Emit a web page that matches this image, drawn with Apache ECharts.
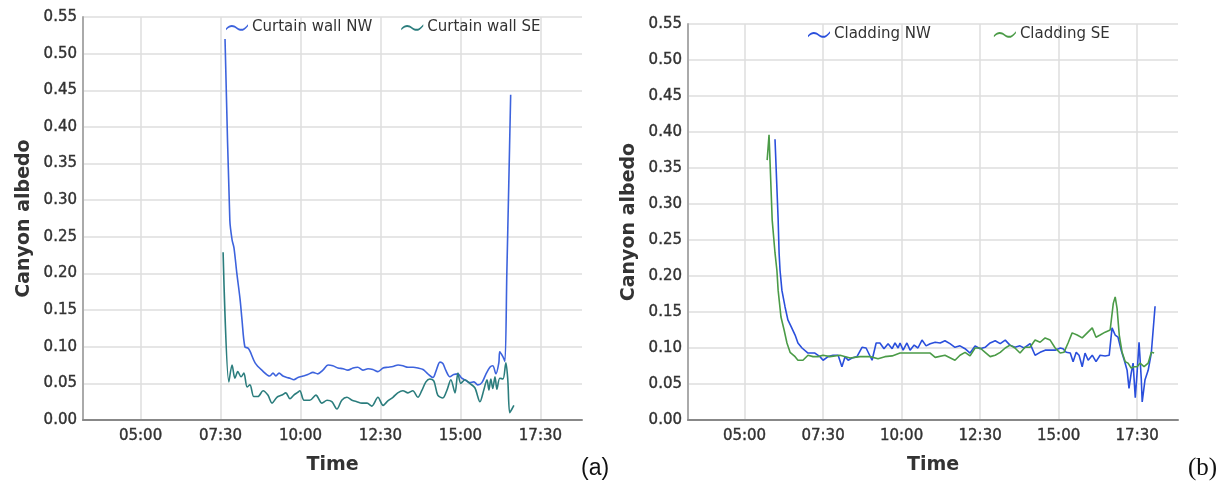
<!DOCTYPE html>
<html>
<head>
<meta charset="utf-8">
<title>Canyon albedo</title>
<script src="https://cdn.jsdelivr.net/npm/echarts@6/dist/echarts.min.js"></script>
<style>
  html, body { margin: 0; padding: 0; background: #fff; }
  #chart { width: 1227px; height: 487px; }
</style>
</head>
<body>
<div id="chart"></div>
<script>
// time in decimal hours, albedo values
const timeTicks = [5, 7.5, 10, 12.5, 15, 17.5]
const albedoTicks = [0, 0.55, 0.05]   // min, max, step

// (a) curtain wall
const cwNwTime = [7.64, 7.79, 7.86, 7.92, 8.01, 8.11, 8.17, 8.26, 8.36, 8.42, 8.58, 8.79, 9.04, 9.14, 9.23, 9.33, 9.45, 9.58, 9.67, 9.79, 9.92, 10.08, 10.23, 10.39, 10.54, 10.70, 10.86, 11.01, 11.17, 11.33, 11.48, 11.64, 11.79, 11.95, 12.11, 12.26, 12.42, 12.58, 12.73, 12.89, 13.05, 13.20, 13.36, 13.52, 13.67, 13.83, 13.98, 14.14, 14.23, 14.36, 14.45, 14.54, 14.67, 14.79, 14.92, 15.04, 15.17, 15.29, 15.42, 15.54, 15.67, 15.79, 15.92, 16.01, 16.11, 16.20, 16.23, 16.33, 16.39, 16.45, 16.51, 16.57]
const cwNwValue = [0.52, 0.273, 0.246, 0.235, 0.20, 0.165, 0.137, 0.10, 0.098, 0.094, 0.078, 0.068, 0.060, 0.064, 0.060, 0.064, 0.060, 0.058, 0.057, 0.055, 0.058, 0.060, 0.062, 0.065, 0.063, 0.068, 0.075, 0.074, 0.071, 0.070, 0.068, 0.071, 0.072, 0.068, 0.070, 0.069, 0.066, 0.071, 0.072, 0.073, 0.075, 0.074, 0.072, 0.072, 0.071, 0.069, 0.063, 0.058, 0.066, 0.079, 0.077, 0.068, 0.059, 0.062, 0.063, 0.057, 0.054, 0.051, 0.052, 0.048, 0.051, 0.062, 0.072, 0.074, 0.063, 0.078, 0.093, 0.086, 0.080, 0.20, 0.32, 0.444]

const cwSeTime = [7.58, 7.76, 7.86, 7.95, 8.04, 8.14, 8.23, 8.33, 8.42, 8.54, 8.67, 8.83, 8.98, 9.11, 9.26, 9.42, 9.54, 9.67, 9.79, 9.92, 9.98, 10.11, 10.29, 10.48, 10.67, 10.83, 10.98, 11.14, 11.29, 11.45, 11.61, 11.76, 11.92, 12.08, 12.23, 12.42, 12.58, 12.73, 12.89, 13.04, 13.20, 13.36, 13.51, 13.67, 13.79, 13.92, 14.04, 14.17, 14.29, 14.45, 14.58, 14.70, 14.83, 14.92, 15.01, 15.14, 15.29, 15.45, 15.61, 15.73, 15.83, 15.89, 15.95, 16.01, 16.08, 16.14, 16.23, 16.33, 16.42, 16.48, 16.54, 16.61, 16.67]
const cwSeValue = [0.229, 0.052, 0.075, 0.057, 0.066, 0.059, 0.064, 0.045, 0.048, 0.032, 0.032, 0.040, 0.034, 0.023, 0.031, 0.034, 0.037, 0.029, 0.034, 0.038, 0.040, 0.027, 0.027, 0.034, 0.023, 0.027, 0.025, 0.015, 0.027, 0.031, 0.027, 0.025, 0.023, 0.023, 0.019, 0.031, 0.020, 0.026, 0.031, 0.037, 0.040, 0.037, 0.040, 0.031, 0.040, 0.052, 0.056, 0.053, 0.034, 0.030, 0.041, 0.055, 0.037, 0.064, 0.050, 0.055, 0.050, 0.044, 0.025, 0.041, 0.055, 0.041, 0.056, 0.043, 0.059, 0.042, 0.057, 0.056, 0.078, 0.055, 0.010, 0.015, 0.020]

// (b) cladding
const clNwTime = [5.97, 6.07, 6.10, 6.13, 6.19, 6.29, 6.38, 6.48, 6.61, 6.70, 6.83, 7.02, 7.24, 7.40, 7.50, 7.66, 7.82, 7.98, 8.10, 8.20, 8.30, 8.42, 8.58, 8.74, 8.87, 8.93, 9.06, 9.19, 9.31, 9.44, 9.57, 9.70, 9.79, 9.89, 9.95, 10.05, 10.17, 10.27, 10.40, 10.52, 10.65, 10.78, 10.91, 11.07, 11.23, 11.38, 11.54, 11.70, 11.86, 12.02, 12.18, 12.34, 12.50, 12.66, 12.82, 12.98, 13.14, 13.30, 13.45, 13.61, 13.77, 13.90, 14.09, 14.25, 14.41, 14.57, 14.73, 14.89, 15.05, 15.14, 15.24, 15.37, 15.46, 15.56, 15.65, 15.75, 15.84, 15.94, 16.07, 16.19, 16.32, 16.48, 16.61, 16.70, 16.80, 16.89, 16.99, 17.09, 17.18, 17.24, 17.31, 17.37, 17.44, 17.50, 17.56, 17.63, 17.66, 17.75, 17.85, 17.95, 18.01, 18.07]
const clNwValue = [0.39, 0.278, 0.232, 0.208, 0.18, 0.157, 0.139, 0.13, 0.118, 0.107, 0.10, 0.093, 0.093, 0.088, 0.083, 0.088, 0.09, 0.09, 0.074, 0.088, 0.083, 0.086, 0.088, 0.101, 0.10, 0.101, 0.083, 0.107, 0.107, 0.099, 0.106, 0.099, 0.107, 0.10, 0.107, 0.097, 0.107, 0.097, 0.104, 0.10, 0.111, 0.103, 0.106, 0.108, 0.107, 0.11, 0.106, 0.101, 0.103, 0.099, 0.093, 0.103, 0.099, 0.101, 0.107, 0.11, 0.106, 0.111, 0.104, 0.101, 0.103, 0.10, 0.106, 0.09, 0.094, 0.097, 0.097, 0.097, 0.10, 0.099, 0.094, 0.093, 0.081, 0.094, 0.09, 0.074, 0.093, 0.083, 0.09, 0.081, 0.09, 0.089, 0.09, 0.128, 0.118, 0.115, 0.097, 0.083, 0.069, 0.044, 0.065, 0.079, 0.031, 0.067, 0.108, 0.058, 0.025, 0.056, 0.069, 0.093, 0.093, 0.158]

const clSeTime = [5.72, 5.78, 5.88, 5.97, 6.03, 6.07, 6.16, 6.26, 6.35, 6.45, 6.61, 6.70, 6.86, 7.02, 7.18, 7.34, 7.50, 7.72, 8.04, 8.36, 8.68, 9.00, 9.25, 9.47, 9.70, 9.95, 10.27, 10.59, 10.91, 11.07, 11.38, 11.70, 11.86, 12.02, 12.18, 12.34, 12.50, 12.66, 12.82, 12.98, 13.14, 13.30, 13.45, 13.61, 13.77, 13.93, 14.09, 14.25, 14.41, 14.57, 14.73, 14.89, 15.05, 15.17, 15.30, 15.43, 15.59, 15.75, 15.91, 16.07, 16.19, 16.32, 16.48, 16.64, 16.74, 16.80, 16.86, 16.93, 17.02, 17.12, 17.21, 17.31, 17.40, 17.50, 17.59, 17.72, 17.85, 17.95, 18.04]
const clSeValue = [0.361, 0.396, 0.278, 0.232, 0.208, 0.18, 0.143, 0.125, 0.107, 0.094, 0.088, 0.083, 0.083, 0.09, 0.088, 0.088, 0.09, 0.088, 0.09, 0.086, 0.088, 0.088, 0.085, 0.088, 0.089, 0.093, 0.093, 0.093, 0.093, 0.087, 0.090, 0.083, 0.090, 0.094, 0.089, 0.10, 0.10, 0.094, 0.088, 0.09, 0.094, 0.10, 0.104, 0.10, 0.093, 0.101, 0.101, 0.111, 0.108, 0.114, 0.111, 0.10, 0.093, 0.094, 0.107, 0.121, 0.118, 0.114, 0.121, 0.128, 0.115, 0.118, 0.122, 0.125, 0.162, 0.171, 0.155, 0.118, 0.094, 0.081, 0.079, 0.072, 0.074, 0.074, 0.079, 0.074, 0.079, 0.094, 0.093]

const zip = (t, v) => t.map((x, i) => [x, v[i]])
const pad = n => (n < 10 ? '0' : '') + n
const hhmm = v => {
  const h = Math.floor(v)
  const m = Math.round((v - h) * 60)
  return pad(h) + ':' + pad(m)
}

const font = 'DejaVu Sans'
const wave = 'path://M0,7 C4,3 7,3 11,6 C15,9 18,8 22,3 L22,5 C18,10 15,11 11,8 C7,5 4,5 0,9 Z'
// slightly heavier than regular, like the original's tick labels
const labelStyle = { fontFamily: font, fontSize: 15, color: '#333', textBorderColor: '#333', textBorderWidth: 0.4 }

function xAxisFor(gridIndex) {
  return {
    type: 'value',
    gridIndex: gridIndex,
    min: 3.2,
    max: 18.8,
    name: 'Time',
    nameLocation: 'middle',
    nameGap: 36,
    nameTextStyle: { fontFamily: font, fontSize: 19, color: '#333', fontWeight: 'bold' },
    axisLine: { lineStyle: { color: '#888', width: 2 } },
    axisTick: { show: false, customValues: timeTicks },
    axisLabel: Object.assign({ customValues: timeTicks, formatter: hhmm, margin: 9 }, labelStyle),
    splitLine: { show: true, lineStyle: { color: '#dedede', width: 1.5 } }
  }
}

function yAxisFor(gridIndex) {
  return {
    type: 'value',
    gridIndex: gridIndex,
    min: albedoTicks[0],
    max: albedoTicks[1],
    interval: albedoTicks[2],
    name: 'Canyon albedo',
    nameLocation: 'middle',
    nameGap: 49,
    nameTextStyle: { fontFamily: font, fontSize: 19, color: '#333', fontWeight: 'bold' },
    axisLine: { show: true, lineStyle: { color: '#aaa', width: 2 } },
    axisTick: { show: false },
    axisLabel: Object.assign({ formatter: v => v.toFixed(2), margin: 6 }, labelStyle),
    splitLine: { show: true, lineStyle: { color: '#dedede', width: 1.5 } }
  }
}

function lineSeries(name, idx, data, color, smooth) {
  return {
    name: name,
    type: 'line',
    xAxisIndex: idx,
    yAxisIndex: idx,
    data: data,
    showSymbol: false,
    symbol: 'none',
    smooth: smooth,
    lineStyle: { color: color, width: 1.6 },
    itemStyle: { color: color },
    animation: false
  }
}

const chart = echarts.init(document.getElementById('chart'))
const option = {
  animation: false,
  grid: [
    { left: 83, top: 17, width: 499, height: 403 },
    { left: 688, top: 24, width: 490, height: 396 }
  ],
  legend: [
    {
      data: ['Curtain wall NW', 'Curtain wall SE'],
      left: 226, top: 20, padding: 0, itemGap: 29,
      itemWidth: 22, itemHeight: 11, icon: wave,
      textStyle: { fontFamily: font, fontSize: 15, color: '#333', padding: [0, 0, 0, -1] }
    },
    {
      data: ['Cladding NW', 'Cladding SE'],
      left: 808, top: 27, padding: 0, itemGap: 63,
      itemWidth: 22, itemHeight: 11, icon: wave,
      textStyle: { fontFamily: font, fontSize: 15, color: '#333', padding: [0, 0, 0, -1] }
    }
  ],
  xAxis: [xAxisFor(0), xAxisFor(1)],
  yAxis: [yAxisFor(0), yAxisFor(1)],
  series: [
    lineSeries('Curtain wall NW', 0, zip(cwNwTime, cwNwValue), '#3d63dd', 0.3),
    lineSeries('Curtain wall SE', 0, zip(cwSeTime, cwSeValue), '#2b7d7d', 0.3),
    lineSeries('Cladding NW', 1, zip(clNwTime, clNwValue), '#2a4fdc', false),
    lineSeries('Cladding SE', 1, zip(clSeTime, clSeValue), '#4b9b47', false)
  ],
  graphic: [
    { type: 'text', left: 581, top: 457, style: { text: '(a)', font: '23px "Liberation Sans", Arial, sans-serif', fill: '#111' } },
    { type: 'text', left: 1188, top: 456, style: { text: '(b)', font: '25px "Liberation Serif", serif', fill: '#111' } }
  ]
}
chart.setOption(option)
</script>
</body>
</html>
